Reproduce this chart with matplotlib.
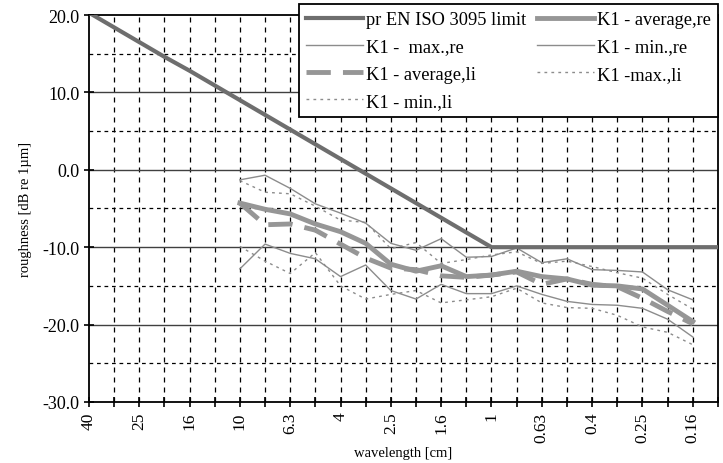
import numpy as np
import matplotlib
matplotlib.use("Agg")
import matplotlib.pyplot as plt

plt.rcParams['font.family'] = ['Liberation Serif', 'DejaVu Serif']

# one-third octave wavelength bands [cm]
bands = ["40", "31.5", "25", "20", "16", "12.5", "10", "8", "6.3", "5", "4", "3.15",
         "2.5", "2", "1.6", "1.25", "1", "0.8", "0.63", "0.5", "0.4", "0.315",
         "0.25", "0.2", "0.16", "0.125"]
shown = ["40", "25", "16", "10", "6.3", "4", "2.5", "1.6", "1", "0.63", "0.4", "0.25", "0.16"]

limit = [20.3, 18.4, 16.5, 14.6, 12.8, 10.9, 9.0, 7.1, 5.2, 3.3, 1.4, -0.5, -2.4,
         -4.3, -6.2, -8.1, -10.0, -10.0, -10.0, -10.0, -10.0, -10.0, -10.0, -10.0,
         -10.0, -10.0]

# measured bands: 10 cm ... 0.16 cm
meas = bands[6:25]
avg_re = [-4.3, -5.1, -5.7, -7.0, -8.0, -9.5, -12.2, -13.1, -12.4, -13.8, -13.6, -13.1,
          -13.8, -14.1, -14.9, -15.0, -15.4, -17.5, -19.6]
max_re = [-1.3, -0.7, -2.4, -4.4, -5.6, -6.9, -9.5, -10.4, -8.9, -11.3, -11.2, -10.1,
          -12.0, -11.5, -12.9, -13.0, -13.2, -15.5, -16.8]
min_re = [-12.8, -9.6, -10.8, -11.5, -13.8, -12.3, -15.6, -16.7, -14.8, -16.0, -16.0, -15.0,
          -16.1, -17.0, -17.4, -17.5, -17.9, -19.3, -21.6]
avg_li = [-4.3, -7.1, -7.0, -7.8, -9.6, -11.4, -12.7, -12.9, -13.7, -13.9, -13.6, -13.2,
          -14.8, -14.1, -14.8, -15.1, -16.6, -18.3, -19.9]
max_li = [-1.4, -2.9, -3.1, -4.7, -6.5, -6.8, -10.2, -9.4, -12.1, -11.6, -11.0, -10.6,
          -12.1, -11.8, -12.5, -13.3, -14.0, -16.1, -18.0]
min_li = [-9.9, -11.8, -13.4, -10.7, -15.0, -16.7, -16.1, -15.6, -17.2, -16.8, -16.4, -15.3,
          -17.2, -17.8, -17.9, -18.8, -20.3, -21.0, -22.6]

x = np.arange(len(bands))
xm = np.array([bands.index(b) for b in meas])

fig = plt.figure(figsize=(7.23, 4.64), dpi=100)
ax = fig.add_axes([0.123, 0.1315, 0.870, 0.834])

# grid
for i in x[1:-1]:
    ax.axvline(i, color='black', lw=0.9, ls=(0, (4, 4)), zorder=1)
for v in [10, 0, -10, -20]:
    ax.axhline(v, color='#404040', lw=1.0, zorder=1)
for v in [15, 5, -5, -15, -25]:
    ax.axhline(v, color='black', lw=0.9, ls=(0, (3, 3)), zorder=1)

h_lim, = ax.plot(x, limit, color='#6e6e6e', lw=3.0, zorder=5, label='pr EN ISO 3095 limit')
h_maxre, = ax.plot(xm, max_re, color='#8c8c8c', lw=1.0, zorder=3, label='K1 -  max.,re')
h_avgli, = ax.plot(xm, avg_li, color='#969696', lw=3.5, ls=(0, (5, 2.5)), zorder=4,
                   label='K1 - average,li')
h_minli, = ax.plot(xm, min_li, color='#8c8c8c', lw=1.0, ls=(0, (2, 3)), zorder=3,
                   label='K1 - min.,li')
h_avgre, = ax.plot(xm, avg_re, color='#969696', lw=3.5, zorder=4, label='K1 - average,re')
h_minre, = ax.plot(xm, min_re, color='#8c8c8c', lw=1.0, zorder=3, label='K1 - min.,re')
h_maxli, = ax.plot(xm, max_li, color='#8c8c8c', lw=1.0, ls=(0, (2, 3)), zorder=3,
                   label='K1 -max.,li')

ax.set_xlim(0, len(bands) - 1)
ax.set_ylim(-30, 20)
ax.set_yticks([20, 10, 0, -10, -20, -30])
ax.set_yticklabels(["%.1f" % v for v in [20, 10, 0, -10, -20, -30]], fontsize=13)
ax.set_xticks(x)
ax.set_xticklabels([b if b in shown else "" for b in bands], rotation=90, fontsize=12.5)
ax.tick_params(axis='both', direction='inout', length=7, width=1.2, color='black')
for s in ax.spines.values():
    s.set_linewidth(1.3)
    s.set_color('black')

ax.set_xlabel('wavelength [cm]', fontsize=10.5, labelpad=3)
ax.set_ylabel('roughness [dB re 1µm]', fontsize=10.5, labelpad=7)

leg = ax.legend(handles=[h_lim, h_maxre, h_avgli, h_minli, h_avgre, h_minre, h_maxli],
                ncol=2, loc='upper right', bbox_to_anchor=(0.993, 0.989),
                bbox_transform=fig.transFigure, fontsize=13.2, frameon=True,
                fancybox=False, edgecolor='black', framealpha=1, handlelength=3.1,
                handletextpad=0.15, columnspacing=0.6, labelspacing=0.55,
                borderpad=0.4, borderaxespad=0)
leg.get_frame().set_linewidth(1.3)
leg.set_zorder(10)

fig.savefig('out.png', dpi=100)
